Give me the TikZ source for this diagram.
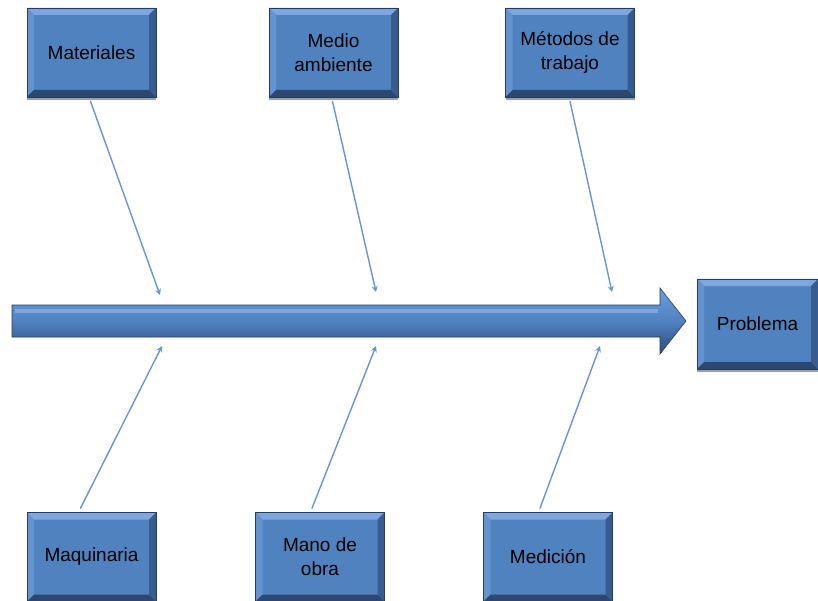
\documentclass[tikz,border=0pt]{standalone}
\usepackage{fontspec}
\setmainfont{Liberation Sans}
\usetikzlibrary{calc,arrows.meta,shadows}
\definecolor{boxfill}{RGB}{80,130,192}
\definecolor{bevlight}{RGB}{125,167,222}
\definecolor{bevleft}{RGB}{100,148,208}
\definecolor{bevdark}{RGB}{44,72,112}
\definecolor{bevright}{RGB}{56,92,142}
\definecolor{boxline}{RGB}{38,60,92}
\definecolor{ribcolor}{RGB}{104,150,212}
\definecolor{shadowgrey}{RGB}{150,160,178}
\definecolor{spinetop}{RGB}{110,158,220}
\definecolor{spinebot}{RGB}{45,75,118}

\begin{document}
\begin{tikzpicture}[x=1pt,y=-1pt,
  bevelbox/.style={minimum width=129pt, minimum height=89pt, inner sep=0pt,
    align=center, fill=boxfill, draw=boxline, line width=0.6pt,
    font=\fontsize{19}{24}\selectfont, text=black,
    drop shadow={shadow xshift=0pt, shadow yshift=-3pt, fill=shadowgrey, opacity=1},
    path picture={
      \path (path picture bounding box.north west) coordinate (bnw)
            (path picture bounding box.north east) coordinate (bne)
            (path picture bounding box.south west) coordinate (bsw)
            (path picture bounding box.south east) coordinate (bse);
      \fill[bevlight] (bnw) -- (bne) -- ($(bne)+(-7pt,-7pt)$) -- ($(bnw)+(7pt,-7pt)$) -- cycle;
      \fill[bevleft] (bnw) -- (bsw) -- ($(bsw)+(7pt,7pt)$) -- ($(bnw)+(7pt,-7pt)$) -- cycle;
      \fill[bevdark] (bsw) -- (bse) -- ($(bse)+(-7pt,7pt)$) -- ($(bsw)+(7pt,7pt)$) -- cycle;
      \fill[bevright] (bne) -- (bse) -- ($(bse)+(-7pt,7pt)$) -- ($(bne)+(-7pt,-7pt)$) -- cycle;
    }},
  rib/.style={draw=ribcolor, line width=1.4pt, line cap=round,
    -{Stealth[length=6pt,width=6pt]}},
]
% page frame
\fill[white] (0,0) rectangle (818,601);
\useasboundingbox (0,0) rectangle (818,601);

% cause boxes
\node[bevelbox] (mat)  at (91.5,52.5) {Materiales};
\node[bevelbox] (med)  at (333.5,52.5) {Medio\\ambiente};
\node[bevelbox] (met)  at (570,52.5) {Métodos de\\trabajo};
\node[bevelbox] (maq)  at (91.5,557) {Maquinaria};
\node[bevelbox] (mano) at (320,557) {Mano de\\obra};
\node[bevelbox] (medi) at (548,557) {Medición};

% effect box
\node[bevelbox, minimum width=121pt, minimum height=90pt] (prob) at (757.5,324) {Problema};

% spine
\coordinate (s0) at (12,305);
\coordinate (s1) at (660,305);
\coordinate (h0) at (660,288);
\coordinate (tip) at (686,321);
\coordinate (h1) at (660,354);
\coordinate (s2) at (660,337);
\coordinate (s3) at (12,337);
\draw[boxline, line width=0.6pt, top color=spinetop, bottom color=spinebot, middle color=boxfill]
  (s0) -- (s1) -- (h0) -- (tip) -- (h1) -- (s2) -- (s3) -- cycle;
\fill[bevlight] (15,309) rectangle (658,313);

% rib ends on the spine
\coordinate (e1) at (160,295);
\coordinate (e2) at (376,292);
\coordinate (e3) at (612,292);
\coordinate (e4) at (162,346);
\coordinate (e5) at (376,346);
\coordinate (e6) at (600,346);

% ribs
\draw[rib] ($(mat.south)+(-1,4)$) -- (e1);
\draw[rib] ($(med.south)+(-1,4)$) -- (e2);
\draw[rib] ($(met.south)+(0,4)$) -- (e3);
\draw[rib] ($(maq.north)+(-11,-4)$) -- (e4);
\draw[rib] ($(mano.north)+(-8,-4)$) -- (e5);
\draw[rib] ($(medi.north)+(-8,-4)$) -- (e6);
\end{tikzpicture}
\end{document}
